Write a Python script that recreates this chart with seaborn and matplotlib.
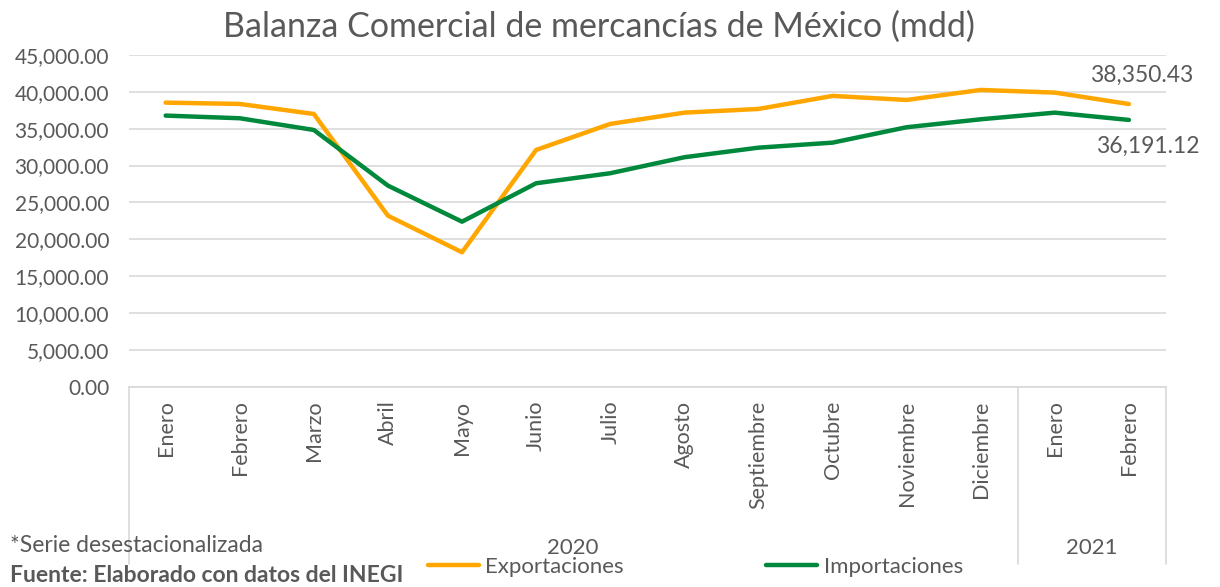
import numpy as np
import pandas as pd
import seaborn as sns
import matplotlib.pyplot as plt
from matplotlib.ticker import FuncFormatter
from matplotlib.lines import Line2D

meses = ['Enero', 'Febrero', 'Marzo', 'Abril', 'Mayo', 'Junio', 'Julio', 'Agosto',
         'Septiembre', 'Octubre', 'Noviembre', 'Diciembre', 'Enero', 'Febrero']
anios = ['2020'] * 12 + ['2021'] * 2
exportaciones = [38540, 38360, 37000, 23200, 18240, 32120, 35650, 37180,
                 37680, 39450, 38900, 40260, 39900, 38350.43]
importaciones = [36780, 36420, 34830, 27280, 22390, 27600, 28960, 31130,
                 32430, 33110, 35200, 36280, 37180, 36191.12]

gris = '#595959'
naranja = '#FFA600'
verde = '#00893C'

sns.set_style('white')
plt.rcParams['font.family'] = ['Lato', 'DejaVu Sans']

df = pd.DataFrame({
    'pos': list(range(len(meses))) * 2,
    'valor': exportaciones + importaciones,
    'serie': ['Exportaciones'] * len(meses) + ['Importaciones'] * len(meses),
})

fig = plt.figure(figsize=(12.2, 5.87), dpi=100)
ax = fig.add_axes([0.1054, 0.3412, 0.8503, 0.5651])

sns.lineplot(data=df, x='pos', y='valor', hue='serie',
             palette={'Exportaciones': naranja, 'Importaciones': verde},
             linewidth=3.2, ax=ax, legend=False)

ax.set_xlim(-0.5, len(meses) - 0.5)
ax.set_ylim(0, 45000)
ax.set_yticks(np.arange(0, 45001, 5000))
ax.yaxis.set_major_formatter(FuncFormatter(lambda v, p: f'{v:,.2f}'))
ax.grid(axis='y', color='#D9D9D9', linewidth=1.2)
ax.set_axisbelow(True)
for s in ['top', 'right', 'left']:
    ax.spines[s].set_visible(False)
ax.spines['bottom'].set_color('#D9D9D9')
ax.spines['bottom'].set_linewidth(1.2)

ax.set_xticks(range(len(meses)))
ax.set_xticklabels(meses, rotation=90, va='top', ha='center')
ax.tick_params(axis='x', length=0, pad=10, labelsize=15.5, labelcolor=gris)
ax.tick_params(axis='y', length=0, pad=14, labelsize=15, labelcolor=gris)
ax.set_xlabel('')
ax.set_ylabel('')

fig.text(0.491, 0.954, 'Balanza Comercial de mercancías de México (mdd)',
         fontsize=24.5, color=gris, ha='center', va='center')

# etiquetas del ultimo dato
ax.annotate(f'{exportaciones[-1]:,.2f}', xy=(len(meses) - 1, exportaciones[-1]),
            xytext=(-28, 21), textcoords='offset points', fontsize=16.5,
            color=gris, va='center', ha='left')
ax.annotate(f'{importaciones[-1]:,.2f}', xy=(len(meses) - 1, importaciones[-1]),
            xytext=(-24, -19), textcoords='offset points', fontsize=16.5,
            color=gris, va='center', ha='left')

# separadores de anios
y_sep = 0.04
for xv in [-0.5, 11.5, len(meses) - 0.5]:
    xf = fig.transFigure.inverted().transform(ax.transData.transform((xv, 0)))[0]
    fig.add_artist(Line2D([xf, xf], [y_sep, 0.3412], color='#D9D9D9', linewidth=1.2))

for anio in ['2020', '2021']:
    idx = [i for i, a in enumerate(anios) if a == anio]
    xm = (idx[0] + idx[-1]) / 2
    xf = fig.transFigure.inverted().transform(ax.transData.transform((xm, 0)))[0]
    fig.text(xf, 0.066, anio, ha='center', va='center', fontsize=16, color=gris)

# leyenda
handles = [Line2D([], [], color=naranja, linewidth=3.2),
           Line2D([], [], color=verde, linewidth=3.2)]
fig.legend(handles, ['Exportaciones', 'Importaciones'], loc='center',
           bbox_to_anchor=(0.570, 0.034), ncol=2, frameon=False, fontsize=16,
           labelcolor=gris, handlelength=2.3, columnspacing=6.4, handletextpad=0.3)

fig.text(0.008, 0.070, '*Serie desestacionalizada', fontsize=16.5, color=gris, va='center')
fig.text(0.008, 0.019, 'Fuente: Elaborado con datos del INEGI', fontsize=16.5,
         color=gris, va='center', fontweight='bold')

fig.savefig('out.png', dpi=100)
